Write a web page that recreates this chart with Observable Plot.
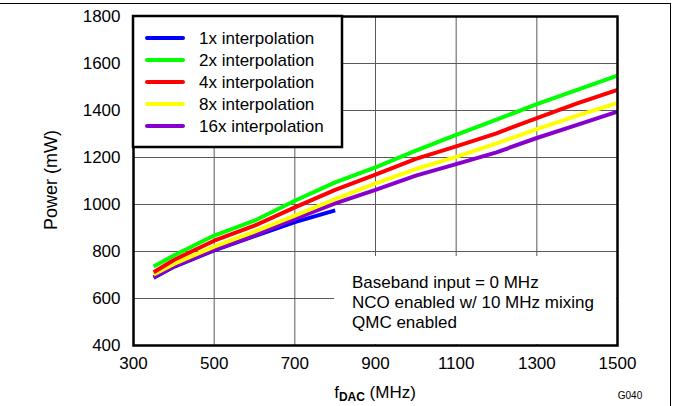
<!DOCTYPE html>
<html>
<head>
<meta charset="utf-8">
<script src="https://cdn.jsdelivr.net/npm/d3@7"></script>
<script src="https://cdn.jsdelivr.net/npm/@observablehq/plot@0.6"></script>
<style>
  html, body { margin: 0; padding: 0; background: white; }
  #chart { width: 673px; height: 406px; overflow: hidden; }
  #chart svg { display: block; }
</style>
</head>
<body>
<div id="chart"></div>
<script>
// ---- data ----
const freq = [350, 400, 500, 600, 700, 800, 900, 1000, 1100, 1200, 1300, 1400, 1500];
const freq1x = [350, 400, 500, 600, 700, 800];
const power1x = [688, 735, 805, 865, 925, 975];
const power2x = [736, 783, 868, 931, 1016, 1094, 1158, 1229, 1296, 1361, 1427, 1488, 1548];
const power4x = [712, 764, 846, 910, 988, 1062, 1127, 1194, 1247, 1303, 1368, 1430, 1488];
const power8x = [702, 747, 821, 885, 953, 1023, 1090, 1151, 1203, 1260, 1321, 1378, 1432];
const power16x = [690, 737, 807, 868, 939, 1005, 1062, 1123, 1172, 1222, 1283, 1339, 1395];
const seriesNames = ["1x interpolation", "2x interpolation", "4x interpolation", "8x interpolation", "16x interpolation"];
const seriesColors = ["#0000ff", "#00ff00", "#ff0000", "#ffff00", "#8800cc"];
const xTicks = [300, 500, 700, 900, 1100, 1300, 1500];
const yTicks = [400, 600, 800, 1000, 1200, 1400, 1600, 1800];
const notes = ["Baseband input = 0 MHz", "NCO enabled w/ 10 MHz mixing", "QMC enabled"];
const xLabelMain = "f", xLabelSub = "DAC", xLabelUnit = " (MHz)";
const yLabel = "Power (mW)";
const figId = "G040";

// tidy table (draw order: 1x first, so others sit on top)
const seriesData = [
  [freq1x, power1x],
  [freq, power2x],
  [freq, power4x],
  [freq, power8x],
  [freq, power16x]
];
const drawOrder = [0, 4, 3, 2, 1];
const rows = [];
for (const si of drawOrder) {
  const [xs, ys] = seriesData[si];
  xs.forEach((f, i) => rows.push({series: seriesNames[si], f, p: ys[i]}));
}

const FONT = "'Liberation Sans', Arial, Helvetica, sans-serif";

const plot = Plot.plot({
  width: 673,
  height: 406,
  marginLeft: 133,
  marginRight: 56,
  marginTop: 16,
  marginBottom: 61,
  style: {fontFamily: FONT, fontSize: "17px", color: "black", background: "white", overflow: "visible"},
  x: {domain: [300, 1500], label: null},
  y: {domain: [400, 1800], label: null},
  color: {domain: seriesNames, range: seriesColors},
  marks: [
    Plot.gridX(xTicks, {stroke: "#5a5a5a", strokeOpacity: 1, strokeWidth: 1}),
    Plot.gridY(yTicks, {stroke: "#5a5a5a", strokeOpacity: 1, strokeWidth: 1}),
    Plot.axisX(xTicks, {tickSize: 0, tickPadding: 11, label: null, tickFormat: d => String(d), fontSize: 17}),
    Plot.axisY(yTicks, {tickSize: 0, tickPadding: 13, label: null, tickFormat: d => String(d), fontSize: 17}),
    Plot.line(rows, {x: "f", y: "p", z: "series", stroke: "series", strokeWidth: 4, strokeLinejoin: "round", strokeLinecap: "butt"}),
    Plot.frame({stroke: "black", strokeWidth: 2.5})
  ]
});

document.getElementById("chart").appendChild(plot);

const svg = d3.select(plot);
const frameEl = plot.querySelector("[aria-label=frame]");

// annotation box (white) under the frame
const ann = frameEl ? svg.insert("g", () => frameEl) : svg.append("g");
ann.append("rect").attr("x", 334).attr("y", 256).attr("width", 282).attr("height", 88).attr("fill", "white");
ann.selectAll("text").data(notes).join("text")
  .attr("x", 352).attr("y", (d, i) => 282 + i * 20)
  .attr("dy", "0.35em").attr("text-anchor", "start")
  .attr("font-family", FONT).attr("font-size", 17).attr("fill", "black")
  .text(d => d);

// legend
const leg = svg.append("g");
leg.append("rect").attr("x", 133).attr("y", 16).attr("width", 209).attr("height", 131)
  .attr("fill", "white").attr("stroke", "black").attr("stroke-width", 2.5);
seriesNames.forEach((name, i) => {
  const cy = 38 + i * 22;
  leg.append("line").attr("x1", 147).attr("x2", 183).attr("y1", cy).attr("y2", cy)
    .attr("stroke", seriesColors[i]).attr("stroke-width", 4).attr("stroke-linecap", "round");
  leg.append("text").attr("x", 199).attr("y", cy).attr("dy", "0.35em").attr("text-anchor", "start")
    .attr("font-family", FONT).attr("font-size", 17).attr("fill", "black").text(name);
});

// axis titles
const xl = svg.append("text").attr("x", 375).attr("y", 398).attr("text-anchor", "middle")
  .attr("font-family", FONT).attr("font-size", 17).attr("fill", "black");
xl.append("tspan").text(xLabelMain);
xl.append("tspan").attr("dy", 3).attr("font-size", 12).attr("font-weight", "bold").text(xLabelSub);
xl.append("tspan").attr("dy", -3).text(xLabelUnit);

svg.append("text").attr("transform", "translate(57,180) rotate(-90)").attr("text-anchor", "middle")
  .attr("font-family", FONT).attr("font-size", 18).attr("fill", "black").text(yLabel);

svg.append("text").attr("x", 630).attr("y", 399).attr("text-anchor", "middle")
  .attr("font-family", FONT).attr("font-size", 10).attr("fill", "black").text(figId);

// outer border fragments (top and right)
svg.append("line").attr("x1", 0).attr("x2", 671).attr("y1", 3.5).attr("y2", 3.5).attr("stroke", "black").attr("stroke-width", 1);
svg.append("line").attr("x1", 670.5).attr("x2", 670.5).attr("y1", 3).attr("y2", 406).attr("stroke", "black").attr("stroke-width", 1);
</script>
</body>
</html>
